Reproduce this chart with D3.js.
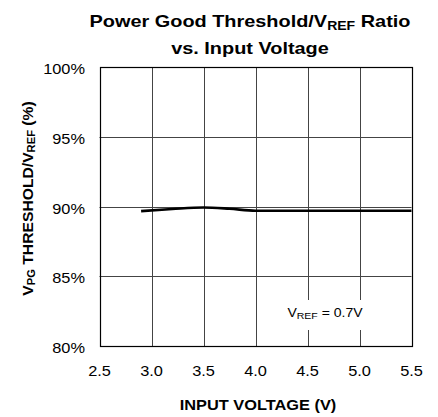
<!DOCTYPE html>
<html>
<head>
<meta charset="utf-8">
<script src="https://cdn.jsdelivr.net/npm/d3@7"></script>
<style>
  body { margin: 0; background: #fff; }
  text { font-family: "Liberation Sans", Arial, sans-serif; fill: #000; }
</style>
</head>
<body>
<script>
// data
const inputVoltage = [2.9, 3.2, 3.5, 3.75, 4.0, 4.5, 5.0, 5.5];
const ratioPct = [89.67, 89.82, 89.93, 89.84, 89.7, 89.7, 89.7, 89.7];
const xTicks = [2.5, 3.0, 3.5, 4.0, 4.5, 5.0, 5.5];
const yTicks = [80, 85, 90, 95, 100];

const width = 438, height = 417;
const margin = {left: 99.5, right: 26.5, top: 67, bottom: 71};
const sx = 1.17; // the text in the reference is a bit wide

const svg = d3.select("body").append("svg")
  .attr("width", width)
  .attr("height", height);

const x = d3.scaleLinear().domain([2.5, 5.5]).range([margin.left, width - margin.right]);
const y = d3.scaleLinear().domain([80, 100]).range([height - margin.bottom, margin.top]);

function wideText(px, py) {
  return svg.append("text")
    .attr("transform", `translate(${px},${py}) scale(${sx},1)`);
}

// grid
svg.append("g").selectAll("line")
  .data(xTicks.slice(1, -1))
  .enter().append("line")
  .attr("x1", d => Math.round(x(d)) + 0.5).attr("x2", d => Math.round(x(d)) + 0.5)
  .attr("y1", y(80)).attr("y2", y(100))
  .attr("stroke", "#444").attr("stroke-width", 1);

svg.append("g").selectAll("line")
  .data(yTicks.slice(1, -1))
  .enter().append("line")
  .attr("x1", x(2.5)).attr("x2", x(5.5))
  .attr("y1", d => Math.round(y(d)) + 0.5).attr("y2", d => Math.round(y(d)) + 0.5)
  .attr("stroke", "#444").attr("stroke-width", 1);

// annotation box (hides grid)
svg.append("rect")
  .attr("x", 284).attr("y", 300)
  .attr("width", 84).attr("height", 30)
  .attr("fill", "#fff");

const ann = wideText(325, 317).attr("text-anchor", "middle").style("font-size", "12px");
ann.append("tspan").text("V");
ann.append("tspan").attr("dy", 2).style("font-size", "9px").text("REF");
ann.append("tspan").attr("dy", -2).text(" = 0.7V");

// frame
svg.append("rect")
  .attr("x", Math.round(x(2.5)) + 0.5).attr("y", Math.round(y(100)) + 0.5)
  .attr("width", Math.round(x(5.5)) - Math.round(x(2.5)))
  .attr("height", Math.round(y(80)) - Math.round(y(100)))
  .attr("fill", "none").attr("stroke", "#000").attr("stroke-width", 1.2);

// curve
const line = d3.line()
  .x((d, i) => x(inputVoltage[i]))
  .y(d => y(d))
  .curve(d3.curveMonotoneX);

svg.append("path")
  .datum(ratioPct)
  .attr("d", line)
  .attr("fill", "none")
  .attr("stroke", "#000")
  .attr("stroke-width", 2.6);

// tick labels
xTicks.forEach(d => {
  wideText(x(d), height - margin.bottom + 30)
    .attr("text-anchor", "middle")
    .style("font-size", "14px")
    .text(d.toFixed(1));
});

yTicks.forEach(d => {
  wideText(85, y(d) + 7)
    .attr("text-anchor", "end")
    .style("font-size", "14px")
    .text(d + "%");
});

// axis titles
wideText(258, 410)
  .attr("text-anchor", "middle")
  .style("font-size", "14px").style("font-weight", "bold")
  .text("INPUT VOLTAGE (V)");

const yl = svg.append("text")
  .attr("transform", `translate(33,198.5) rotate(-90) scale(1.12,1)`)
  .attr("text-anchor", "middle")
  .style("font-size", "14px").style("font-weight", "bold");
yl.append("tspan").text("V");
yl.append("tspan").attr("dy", 2).style("font-size", "10px").text("PG");
yl.append("tspan").attr("dy", -2).text(" THRESHOLD/V");
yl.append("tspan").attr("dy", 2).style("font-size", "10px").text("REF");
yl.append("tspan").attr("dy", -2).text(" (%)");

// title
const t1 = wideText(250, 27).attr("text-anchor", "middle")
  .style("font-size", "17px").style("font-weight", "bold");
t1.append("tspan").text("Power Good Threshold/V");
t1.append("tspan").attr("dy", 3).style("font-size", "12px").text("REF");
t1.append("tspan").attr("dy", -3).text(" Ratio");

wideText(250, 53.5).attr("text-anchor", "middle")
  .style("font-size", "17px").style("font-weight", "bold")
  .text("vs. Input Voltage");
</script>
</body>
</html>
